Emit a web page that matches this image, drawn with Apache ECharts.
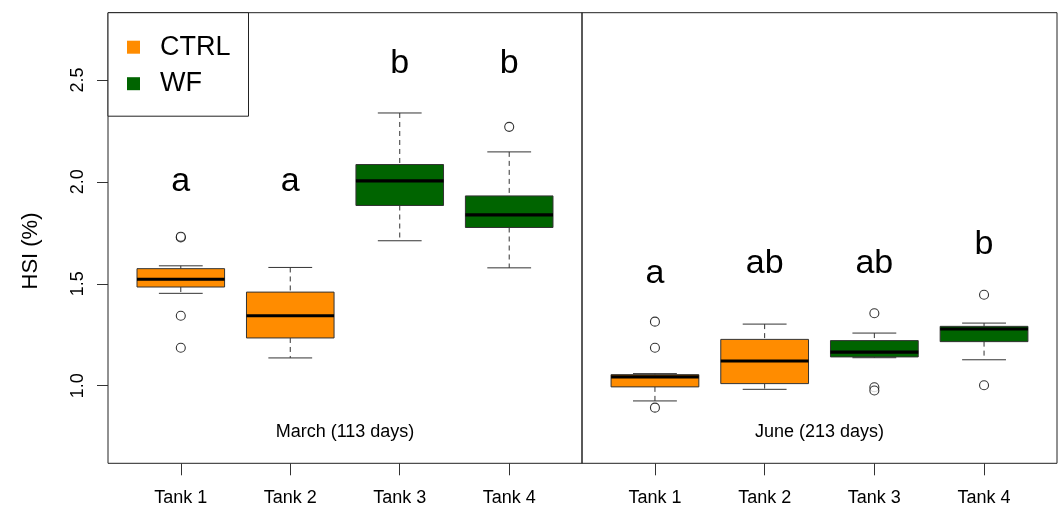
<!DOCTYPE html>
<html>
<head>
<meta charset="utf-8">
<script src="https://cdn.jsdelivr.net/npm/echarts@6/dist/echarts.min.js"></script>
<style>html,body{margin:0;padding:0;background:#fff;}#chart{width:1062px;height:510px;}</style>
</head>
<body>
<div id="chart"></div>
<script>
// ---- data ----
const tankLabels = ['Tank 1', 'Tank 2', 'Tank 3', 'Tank 4'];
const tankPos = [1, 2, 3, 4];
const tankGroup = ['CTRL', 'CTRL', 'WF', 'WF'];
const groupNames = ['CTRL', 'WF'];
const groupColors = ['#FF8C00', '#006400'];
const yTicks = [1.0, 1.5, 2.0, 2.5];
// [min, Q1, median, Q3, max]
const marchStats = [
  [1.453, 1.484, 1.522, 1.574, 1.588],
  [1.136, 1.234, 1.343, 1.459, 1.580],
  [1.711, 1.884, 2.005, 2.085, 2.338],
  [1.578, 1.776, 1.838, 1.931, 2.147]
];
const juneStats = [
  [0.925, 0.994, 1.043, 1.054, 1.059],
  [0.982, 1.010, 1.121, 1.227, 1.302],
  [1.137, 1.141, 1.165, 1.221, 1.258],
  [1.127, 1.216, 1.278, 1.291, 1.307]
];
// [tank, value]
const marchOutliers = [[1, 1.727], [1, 1.731], [1, 1.343], [1, 1.186], [4, 2.270]];
const juneOutliers = [[1, 1.314], [1, 1.186], [1, 0.892], [3, 1.355], [3, 0.992], [3, 0.976], [4, 1.446], [4, 1.002]];
const marchLetters = ['a', 'a', 'b', 'b'];
const marchLetterY = [2.0, 2.0, 2.58, 2.58];
const juneLetters = ['a', 'ab', 'ab', 'b'];
const juneLetterY = [1.55, 1.60, 1.60, 1.69];
const panelNames = ['March (113 days)', 'June (213 days)'];
const panelLabelY = 0.77;

// ---- build ----
const FONT = 'Liberation Sans, Arial, Helvetica, sans-serif';
const chart = echarts.init(document.getElementById('chart'), null, {renderer: 'canvas'});

function renderBox(params, api) {
  const x = api.value(0);
  const vmin = api.value(1), q1 = api.value(2), med = api.value(3), q3 = api.value(4), vmax = api.value(5);
  const pMin = api.coord([x, vmin]), pQ1 = api.coord([x, q1]), pMed = api.coord([x, med]);
  const pQ3 = api.coord([x, q3]), pMax = api.coord([x, vmax]);
  const cx = pMed[0];
  const w = api.size([0.8, 0])[0];
  const cap = api.size([0.4, 0])[0];
  const color = api.visual('color');
  const dash = {stroke: '#333', lineWidth: 1, lineDash: [5, 4]};
  const solid = {stroke: '#333', lineWidth: 1};
  return {
    type: 'group',
    children: [
      {type: 'line', shape: {x1: cx, y1: pMax[1], x2: cx, y2: pQ3[1]}, style: dash},
      {type: 'line', shape: {x1: cx, y1: pQ1[1], x2: cx, y2: pMin[1]}, style: dash},
      {type: 'line', shape: {x1: cx - cap / 2, y1: pMax[1], x2: cx + cap / 2, y2: pMax[1]}, style: solid},
      {type: 'line', shape: {x1: cx - cap / 2, y1: pMin[1], x2: cx + cap / 2, y2: pMin[1]}, style: solid},
      {type: 'rect', shape: {x: cx - w / 2, y: pQ3[1], width: w, height: pQ1[1] - pQ3[1]}, style: {fill: color, stroke: '#333', lineWidth: 1}},
      {type: 'line', shape: {x1: cx - w / 2, y1: pMed[1], x2: cx + w / 2, y2: pMed[1]}, style: {stroke: '#000', lineWidth: 3.2}}
    ]
  };
}

function renderText(params, api) {
  const p = api.coord([api.value(0), api.value(1)]);
  const txt = params.seriesName.indexOf('letters') === 0
    ? panels[params.seriesName.slice(-1) * 1].letters[params.dataIndex]
    : panelNames[params.seriesName.slice(-1) * 1];
  return {
    type: 'text', x: p[0], y: p[1],
    style: {text: txt, fill: '#000', align: 'center', verticalAlign: 'middle',
      fontSize: params.seriesName.indexOf('letters') === 0 ? 34 : 18, fontFamily: FONT}
  };
}

const panels = [
  {stats: marchStats, outliers: marchOutliers, letters: marchLetters, letterY: marchLetterY},
  {stats: juneStats, outliers: juneOutliers, letters: juneLetters, letterY: juneLetterY}
];

const series = [];
panels.forEach((p, gi) => {
  groupNames.forEach((g, k) => {
    const data = [];
    p.stats.forEach((s, i) => { if (tankGroup[i] === g) data.push([tankPos[i]].concat(s)); });
    series.push({
      type: 'custom', name: g, xAxisIndex: gi, yAxisIndex: gi,
      itemStyle: {color: groupColors[k]},
      renderItem: renderBox, data: data, encode: {x: 0, y: [1, 2, 3, 4, 5]}, z: 2
    });
  });
  series.push({
    type: 'scatter', name: 'outliers' + gi, xAxisIndex: gi, yAxisIndex: gi,
    symbol: 'circle', symbolSize: 9,
    itemStyle: {color: '#fff', borderColor: '#000', borderWidth: 1.1},
    data: p.outliers, z: 3
  });
  series.push({
    type: 'custom', name: 'letters' + gi, xAxisIndex: gi, yAxisIndex: gi,
    renderItem: renderText, encode: {x: 0, y: 1},
    data: tankPos.map((x, i) => [x, p.letterY[i]]), z: 4
  });
  series.push({
    type: 'custom', name: 'panel' + gi, xAxisIndex: gi, yAxisIndex: gi,
    renderItem: renderText, encode: {x: 0, y: 1},
    data: [[2.5, panelLabelY]], z: 4
  });
});

function xAxisDef(gi) {
  return {
    type: 'value', gridIndex: gi, min: 0.335, max: 4.665,
    axisLine: {show: false}, splitLine: {show: false},
    axisTick: {show: true, length: 12, customValues: tankPos, lineStyle: {color: '#333'}},
    axisLabel: {show: true, customValues: tankPos, margin: 26, fontSize: 18, color: '#000', fontFamily: FONT,
      formatter: v => tankLabels[tankPos.indexOf(Math.round(v))] || ''}
  };
}
function yAxisDef(gi) {
  const show = gi === 0;
  return {
    type: 'value', gridIndex: gi, min: 0.619, max: 2.83,
    axisLine: {show: false}, splitLine: {show: false},
    axisTick: {show: show, length: 11, customValues: yTicks, lineStyle: {color: '#333'}},
    axisLabel: {show: show, customValues: yTicks, rotate: 90, margin: 21, fontSize: 18, color: '#000', fontFamily: FONT,
      formatter: v => v.toFixed(1)},
    name: show ? 'HSI (%)' : '', nameLocation: 'middle', nameGap: 66, nameRotate: 90,
    nameTextStyle: {fontSize: 22, color: '#000', fontFamily: FONT, padding: [0, 26, 0, 0]}
  };
}

chart.setOption({
  animation: false,
  backgroundColor: '#fff',
  grid: [
    {left: 108, top: 12.7, width: 474, height: 450.6, show: true, borderColor: '#222', borderWidth: 1, backgroundColor: 'transparent'},
    {left: 582, top: 12.7, width: 475, height: 450.6, show: true, borderColor: '#222', borderWidth: 1, backgroundColor: 'transparent'}
  ],
  xAxis: [xAxisDef(0), xAxisDef(1)],
  yAxis: [yAxisDef(0), yAxisDef(1)],
  legend: {
    data: groupNames, orient: 'vertical', left: 108, top: 12.7,
    padding: [21, 18, 19, 19], itemGap: 9.5, itemWidth: 13, itemHeight: 13, icon: 'rect',
    borderColor: '#222', borderWidth: 1, backgroundColor: '#fff',
    textStyle: {fontSize: 27, color: '#000', fontFamily: FONT, padding: [0, 0, 0, 15]},
    selectedMode: false
  },
  series: series
});
</script>
</body>
</html>
